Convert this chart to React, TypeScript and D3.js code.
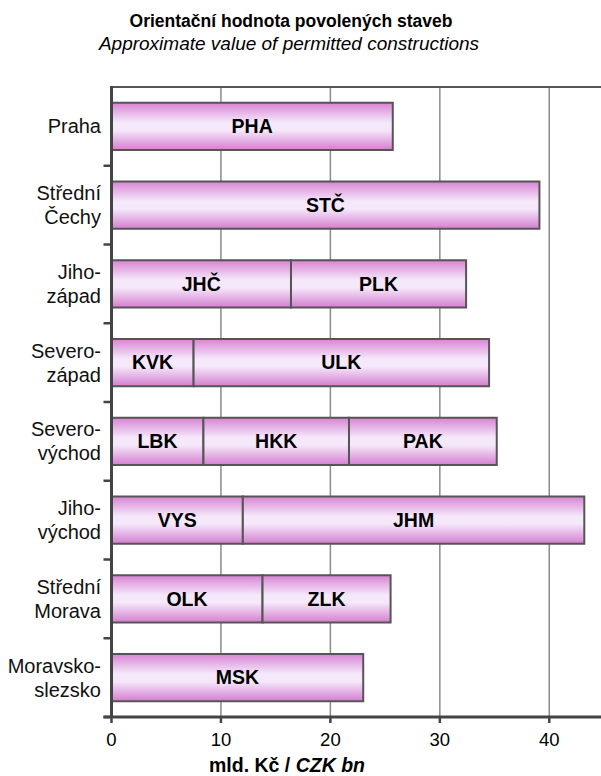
import React from "react";
import * as d3 from "d3";

const regions = [
  "Praha",
  "Střední Čechy",
  "Jihozápad",
  "Severozápad",
  "Severovýchod",
  "Jihovýchod",
  "Střední Morava",
  "Moravskoslezsko",
];

const regionLines = [
  ["Praha"],
  ["Střední", "Čechy"],
  ["Jiho-", "západ"],
  ["Severo-", "západ"],
  ["Severo-", "východ"],
  ["Jiho-", "východ"],
  ["Střední", "Morava"],
  ["Moravsko-", "slezsko"],
];

const segmentCodes = [
  ["PHA"],
  ["STČ"],
  ["JHČ", "PLK"],
  ["KVK", "ULK"],
  ["LBK", "HKK", "PAK"],
  ["VYS", "JHM"],
  ["OLK", "ZLK"],
  ["MSK"],
];

const segmentValues = [
  [25.7],
  [39.1],
  [16.4, 16.0],
  [7.5, 27.0],
  [8.4, 13.3, 13.5],
  [12.0, 31.2],
  [13.8, 11.7],
  [23.0],
];

const xTicks = [0, 10, 20, 30, 40];

const title = "Orientační hodnota povolených staveb";
const subtitle = "Approximate value of permitted constructions";

const width = 601;
const height = 776;
const margin = { top: 87, right: -3, bottom: 59, left: 111.5 };
const font = "'Liberation Sans', Arial, sans-serif";

export default function App() {
  const x = d3
    .scaleLinear()
    .domain([0, 45])
    .range([margin.left, width - margin.right]);

  const y = d3
    .scaleBand()
    .domain(regions)
    .range([margin.top, height - margin.bottom])
    .paddingInner(0.4)
    .paddingOuter(0.2);

  const step = y.step();
  const bottom = height - margin.bottom;
  const boundaries = d3.range(1, regions.length + 1).map((i) => margin.top + i * step);

  return (
    <svg
      width={width}
      height={height}
      style={{ position: "absolute", left: 0, top: 0, background: "#fff" }}
      fontFamily={font}
    >
      <defs>
        <linearGradient id="barGrad" x1="0" y1="0" x2="0" y2="1">
          <stop offset="0" stopColor="#d883d3" />
          <stop offset="0.42" stopColor="#f5e8fb" />
          <stop offset="0.58" stopColor="#f5e8fb" />
          <stop offset="1" stopColor="#d47ecf" />
        </linearGradient>
      </defs>

      {/* titles */}
      <text x={291} y={27} textAnchor="middle" fontWeight="bold" fontSize={17.5}>
        {title}
      </text>
      <text x={289} y={50} textAnchor="middle" fontStyle="italic" fontSize={19}>
        {subtitle}
      </text>

      {/* grid */}
      {xTicks.slice(1).map((t) => (
        <line
          key={t}
          x1={x(t)}
          x2={x(t)}
          y1={margin.top}
          y2={bottom}
          stroke="#8a8a8a"
          strokeWidth={1.5}
        />
      ))}

      {/* top border */}
      <line x1={margin.left} x2={width} y1={margin.top} y2={margin.top} stroke="#555" strokeWidth={2} />

      {/* bars */}
      {regions.map((r, i) => {
        const starts = d3.cumsum([0, ...segmentValues[i]]);
        return (
          <g key={r}>
            {segmentValues[i].map((v, j) => {
              const x0 = x(starts[j]);
              const x1 = x(starts[j] + v);
              return (
                <g key={j}>
                  <rect
                    x={x0}
                    y={y(r)}
                    width={x1 - x0}
                    height={y.bandwidth()}
                    fill="url(#barGrad)"
                    stroke="#555"
                    strokeWidth={2}
                  />
                  <text
                    x={(x0 + x1) / 2}
                    y={y(r)! + y.bandwidth() / 2}
                    dy="0.35em"
                    textAnchor="middle"
                    fontWeight="bold"
                    fontSize={19.5}
                  >
                    {segmentCodes[i][j]}
                  </text>
                </g>
              );
            })}
          </g>
        );
      })}

      {/* y axis */}
      <line x1={margin.left} x2={margin.left} y1={margin.top - 1} y2={bottom + 1} stroke="#444" strokeWidth={3} />
      {boundaries.map((b) => (
        <line key={b} x1={margin.left - 8} x2={margin.left} y1={b} y2={b} stroke="#444" strokeWidth={2.5} />
      ))}
      {regions.map((r, i) => {
        const lines = regionLines[i];
        const cy = y(r)! + y.bandwidth() / 2;
        const lh = 24;
        return (
          <text key={r} x={101} textAnchor="end" fontSize={20} fill="#111">
            {lines.map((l, k) => (
              <tspan key={k} x={101} y={cy + (k - (lines.length - 1) / 2) * lh} dy="0.35em">
                {l}
              </tspan>
            ))}
          </text>
        );
      })}

      {/* x axis */}
      <line x1={margin.left - 8} x2={width} y1={bottom} y2={bottom} stroke="#444" strokeWidth={3} />
      {xTicks.map((t) => (
        <g key={t}>
          <line x1={x(t)} x2={x(t)} y1={bottom} y2={bottom + 6} stroke="#444" strokeWidth={2.5} />
          <text x={x(t)} y={746} textAnchor="middle" fontSize={18.5}>
            {t}
          </text>
        </g>
      ))}
      <text x={287} y={772} textAnchor="middle" fontWeight="bold" fontSize={19.5}>
        mld. Kč / <tspan fontStyle="italic">CZK bn</tspan>
      </text>
    </svg>
  );
}
